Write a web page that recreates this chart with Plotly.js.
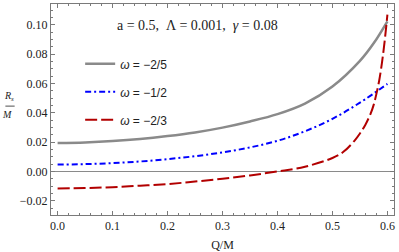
<!DOCTYPE html>
<html>
<head>
<meta charset="utf-8">
<script src="https://cdn.plot.ly/plotly-3.0.1.min.js"></script>
<style>html,body{margin:0;padding:0;background:#fff}#chart{width:399px;height:252px}</style>
</head>
<body>
<div id="chart"></div>
<script>
// Q/M sample points and R_s/M values
const xGray = [0, 0.05, 0.1, 0.15, 0.2, 0.25, 0.3, 0.35, 0.4, 0.45, 0.5, 0.55, 0.575, 0.6];
const yGray = [0.0195, 0.0199, 0.0208, 0.0222, 0.0242, 0.0267, 0.0300, 0.0342, 0.0392, 0.0464, 0.0580, 0.0755, 0.0875, 0.1025];

const xBlue = [0, 0.05, 0.1, 0.15, 0.2, 0.25, 0.3, 0.35, 0.4, 0.45, 0.5, 0.55, 0.6];
const yBlue = [0.0048, 0.0051, 0.0058, 0.0069, 0.0085, 0.0105, 0.0131, 0.0165, 0.0210, 0.0275, 0.0360, 0.0470, 0.0598];

const xRed = [0, 0.05, 0.1, 0.15, 0.2, 0.25, 0.3, 0.35, 0.4, 0.45, 0.5, 0.52, 0.54, 0.55, 0.56, 0.57, 0.575, 0.58, 0.585, 0.59, 0.595, 0.6];
const yRed = [-0.0115, -0.0112, -0.0106, -0.0096, -0.0085, -0.0068, -0.0049, -0.0026, 0.0001, 0.0033, 0.0093, 0.0135, 0.0210, 0.0260, 0.0320, 0.0400, 0.0455, 0.0530, 0.0620, 0.0740, 0.0890, 0.1070];

// tick labels
const yTickVals = [-0.02, 0, 0.02, 0.04, 0.06, 0.08, 0.10];
const yTickText = ["\u22120.02", "0.00", "0.02", "0.04", "0.06", "0.08", "0.10"];
const xTickVals = [0, 0.1, 0.2, 0.3, 0.4, 0.5, 0.6];
const xTickText = ["0.0", "0.1", "0.2", "0.3", "0.4", "0.5", "0.6"];

const seriesNames = ["<i>\u03c9</i> = \u22122/5", "<i>\u03c9</i> = \u22121/2", "<i>\u03c9</i> = \u22122/3"];
const paramText = "a = 0.5,  \u039b = 0.001,  <i>\u03b3</i> = 0.08";

const serif = "Liberation Serif, Times New Roman, serif";
const sans = "Liberation Sans, Arial, sans-serif";

const traces = [
  {x: xGray, y: yGray, name: seriesNames[0], legendgroup: "g1", mode: "lines",
   line: {color: "#8a8a8a", width: 2.5, shape: "spline"}},
  {x: xBlue, y: yBlue, name: seriesNames[1], legendgroup: "g2", mode: "lines",
   line: {color: "#0000ff", width: 2, dash: "6px,3px,2px,3px", shape: "spline"}},
  {x: xRed, y: yRed, name: seriesNames[2], legendgroup: "g3", mode: "lines",
   line: {color: "#b20000", width: 2, dash: "12px,4px", shape: "spline"}}
];

const axisCommon = {
  showline: true, linecolor: "#7a7a7a", linewidth: 1, mirror: "allticks",
  ticks: "inside", ticklen: 4, tickcolor: "#7a7a7a", tickwidth: 1, ticklabeloverflow: "allow",
  showgrid: false, tickfont: {family: serif, size: 12, color: "#222"}
};

const layout = {
  width: 399, height: 252,
  margin: {l: 51, r: 5, t: 4, b: 37},
  paper_bgcolor: "#fff", plot_bgcolor: "#fff",
  showlegend: true,
  legend: {x: 0.085, y: 0.785, xanchor: "left", yanchor: "top", bgcolor: "rgba(0,0,0,0)",
           font: {family: sans, size: 12, color: "#222"}, tracegroupgap: 9},
  xaxis: Object.assign({}, axisCommon, {
    range: [-0.012, 0.612], tickmode: "array", tickvals: xTickVals, ticktext: xTickText, zeroline: false,
    minor: {tickmode: "linear", tick0: 0, dtick: 0.02, ticks: "inside", ticklen: 2, tickcolor: "#7a7a7a"},
    title: {text: "Q/M", font: {family: serif, size: 12, color: "#222"}, standoff: 13}
  }),
  yaxis: Object.assign({}, axisCommon, {
    range: [-0.0296, 0.1143], tickmode: "array", tickvals: yTickVals, ticktext: yTickText,
    zeroline: true, zerolinecolor: "#8a8a8a", zerolinewidth: 1,
    minor: {tickmode: "linear", tick0: 0, dtick: 0.005, ticks: "inside", ticklen: 2, tickcolor: "#7a7a7a"}
  }),
  annotations: [
    {xref: "paper", yref: "paper", x: 0.427, y: 0.896, xanchor: "center", yanchor: "middle",
     text: paramText, showarrow: false, font: {family: serif, size: 14, color: "#222"}},
    {xref: "paper", yref: "paper", x: 0, xshift: -35, y: 0.52, xanchor: "right", yanchor: "bottom",
     text: "<i>R<sub>s</sub></i>", showarrow: false, font: {family: serif, size: 10, color: "#222"}},
    {xref: "paper", yref: "paper", x: 0, xshift: -37, y: 0.512, xanchor: "right", yanchor: "top",
     text: "<i>M</i>", showarrow: false, font: {family: serif, size: 10, color: "#222"}}
  ],
  shapes: [
    {type: "line", xref: "paper", yref: "paper", x0: -0.133, x1: -0.106, y0: 0.516, y1: 0.516,
     line: {color: "#222", width: 0.8}}
  ]
};

Plotly.newPlot("chart", traces, layout, {displayModeBar: false, staticPlot: true});
</script>
</body>
</html>
